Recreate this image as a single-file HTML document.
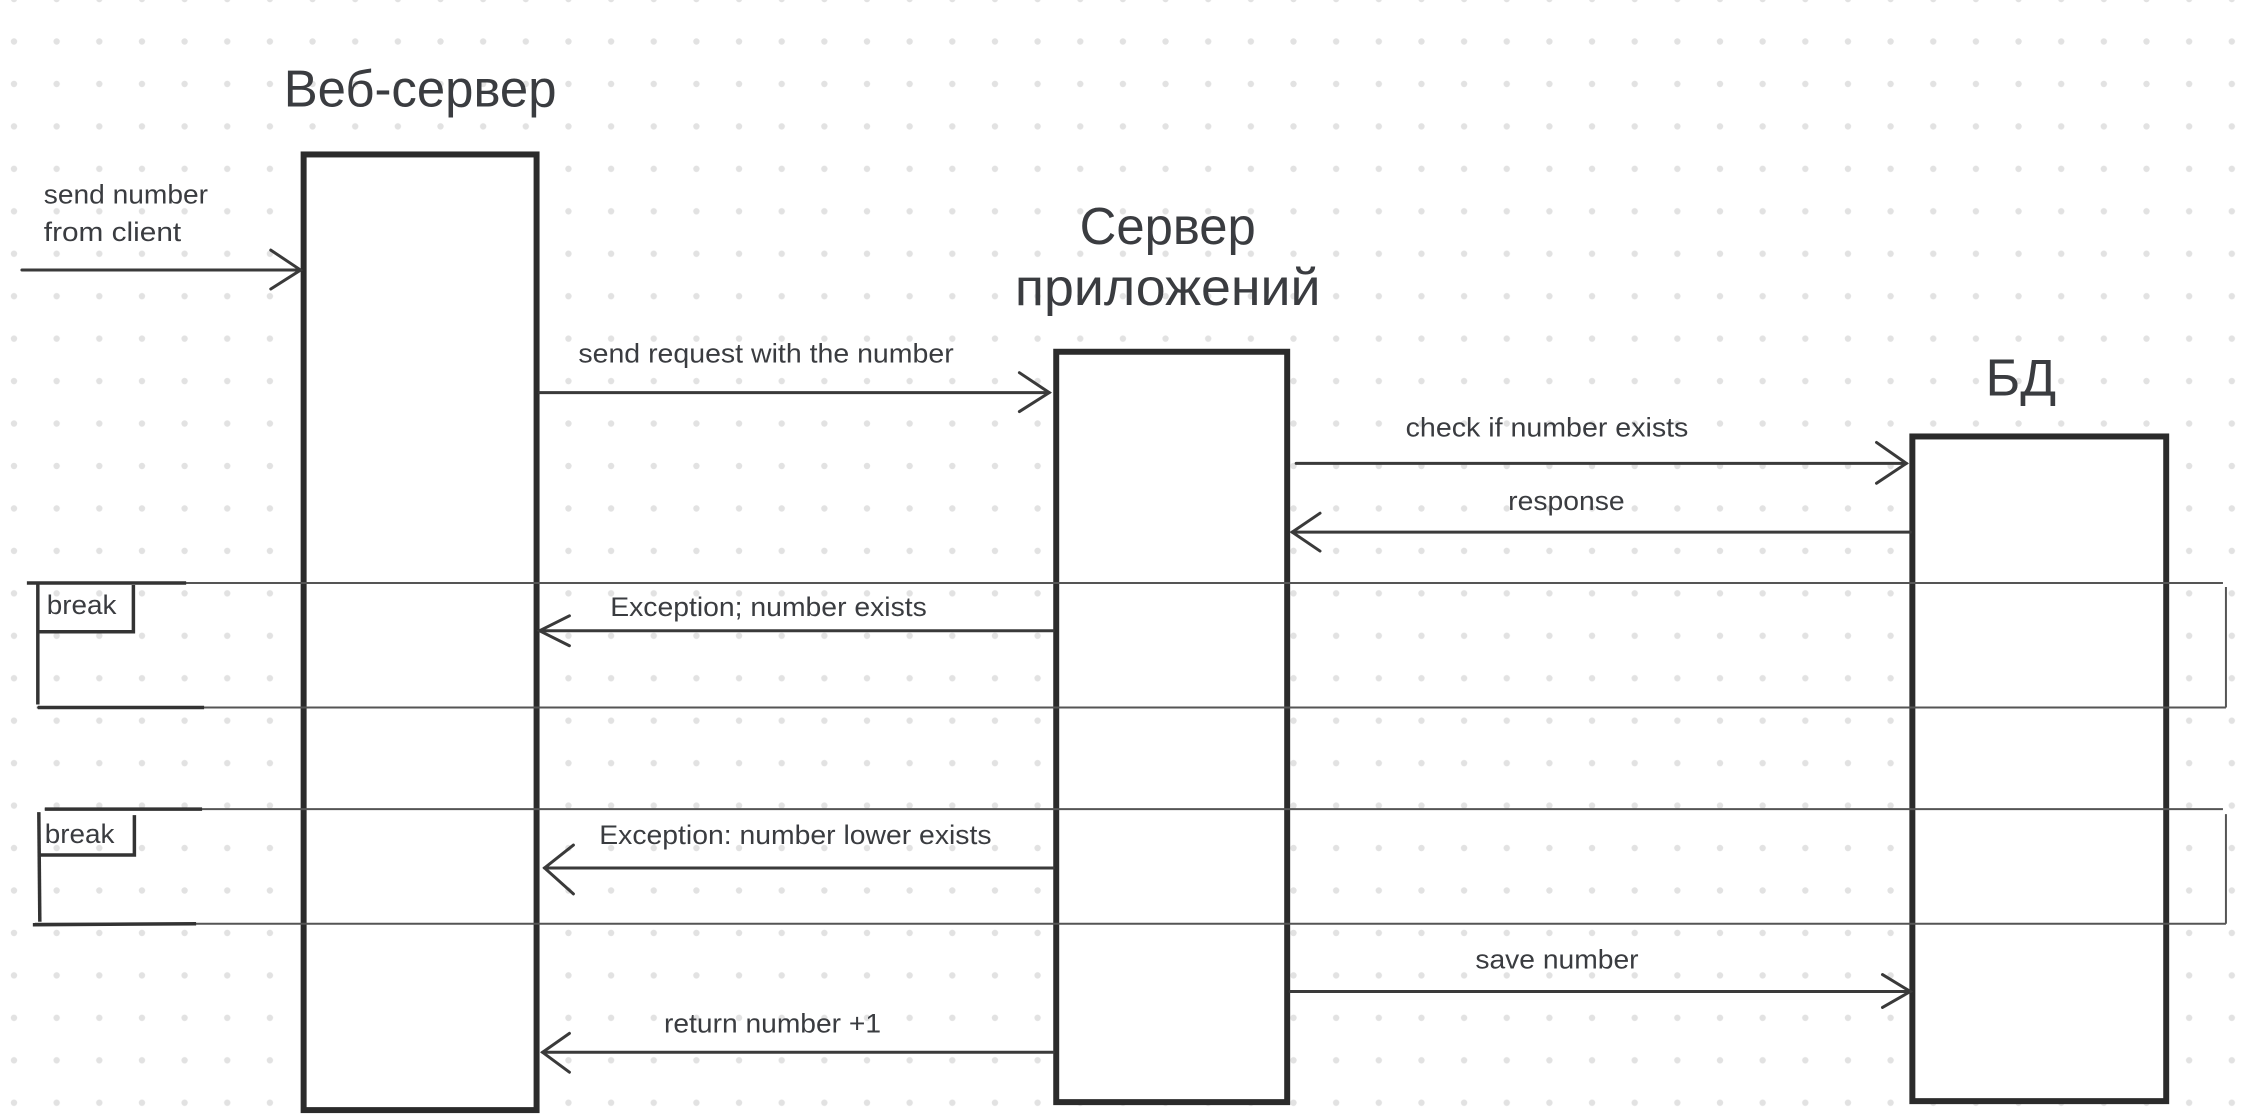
<!DOCTYPE html>
<html><head><meta charset="utf-8"><style>
html,body{margin:0;padding:0;background:#fff;}
svg{display:block;}
text{font-family:"Liberation Sans","DejaVu Sans",sans-serif;fill:#3a3c40;}
</style></head><body>
<svg width="2262" height="1120" viewBox="0 0 2262 1120" xmlns="http://www.w3.org/2000/svg">
<defs>
<pattern id="dots" x="14" y="41.5" width="42.65" height="42.45" patternUnits="userSpaceOnUse">
<circle cx="0" cy="0" r="3.2" fill="#e2e2e2"/>
<circle cx="42.65" cy="0" r="3.2" fill="#e2e2e2"/>
<circle cx="0" cy="42.45" r="3.2" fill="#e2e2e2"/>
<circle cx="42.65" cy="42.45" r="3.2" fill="#e2e2e2"/>
</pattern>
</defs>
<rect width="2262" height="1120" fill="url(#dots)"/>
<g transform="scale(0.9955 0.9965)">
<!-- lifeline boxes -->
<rect x="305" y="155" width="234" height="959" fill="#fff" stroke="#2b2b2b" stroke-width="6"/>
<rect x="1061" y="353" width="232" height="753" fill="#fff" stroke="#2b2b2b" stroke-width="6"/>
<rect x="1921" y="438" width="255" height="667" fill="#fff" stroke="#2b2b2b" stroke-width="6"/>

<!-- titles -->
<text x="422" y="107" font-size="52" text-anchor="middle" textLength="274" lengthAdjust="spacingAndGlyphs">Веб-сервер</text>
<text x="1173" y="245" font-size="52" text-anchor="middle" textLength="177" lengthAdjust="spacingAndGlyphs">Сервер</text>
<text x="1173" y="306" font-size="52" text-anchor="middle" textLength="307" lengthAdjust="spacingAndGlyphs">приложений</text>
<text x="2030" y="397" font-size="52" text-anchor="middle" textLength="71" lengthAdjust="spacingAndGlyphs">БД</text>

<!-- break frames -->
<g stroke="#555" stroke-width="2" fill="none">
<line x1="37" y1="585" x2="2233" y2="585"/>
<line x1="37" y1="710" x2="2236" y2="710"/>
<line x1="2236" y1="589" x2="2236" y2="710"/>
<line x1="45" y1="812" x2="2233" y2="812"/>
<line x1="35" y1="927" x2="2236" y2="927"/>
<line x1="2236" y1="817" x2="2236" y2="927"/>
</g>
<g stroke="#333" stroke-width="3.5" fill="none">
<line x1="27" y1="585" x2="187" y2="585"/>
<line x1="38" y1="585" x2="38" y2="707"/>
<line x1="38" y1="710" x2="205" y2="710"/>
<polyline points="38,634 134,634 134,587"/>
<line x1="45" y1="812" x2="203" y2="812"/>
<line x1="39" y1="815" x2="40" y2="925"/>
<line x1="33" y1="928" x2="197" y2="927"/>
<polyline points="39,858 135,858 135,818"/>
</g>
<text x="47" y="616" font-size="27" textLength="70" lengthAdjust="spacingAndGlyphs">break</text>
<text x="45" y="846" font-size="27" textLength="70" lengthAdjust="spacingAndGlyphs">break</text>

<!-- arrows -->
<g stroke="#3a3a3a" stroke-width="3" fill="none" stroke-linecap="round">
<line x1="22" y1="271" x2="302" y2="271"/><polyline points="272,251 302,271 272,290"/>
<line x1="542" y1="394" x2="1054" y2="394"/><polyline points="1024,374 1054,394 1024,413"/>
<line x1="1302" y1="465" x2="1915" y2="465"/><polyline points="1885,444 1915,465 1885,485"/>
<line x1="1919" y1="534" x2="1298" y2="534"/><polyline points="1326,515 1298,534 1326,553"/>
<line x1="1058" y1="633" x2="542" y2="633"/><polyline points="572,618 542,633 572,648"/>
<line x1="1058" y1="871" x2="547" y2="871"/><polyline points="576,848 547,871 576,897"/>
<line x1="1296" y1="995" x2="1919" y2="995"/><polyline points="1891,978 1919,995 1891,1011"/>
<line x1="1058" y1="1056" x2="545" y2="1056"/><polyline points="572,1037 545,1056 572,1076"/>
</g>

<!-- labels -->
<g font-size="27">
<text x="44" y="204" textLength="165" lengthAdjust="spacingAndGlyphs">send number</text>
<text x="44" y="242" textLength="138" lengthAdjust="spacingAndGlyphs">from client</text>
<text x="581" y="364" textLength="377" lengthAdjust="spacingAndGlyphs">send request with the number</text>
<text x="1412" y="438" textLength="284" lengthAdjust="spacingAndGlyphs">check if number exists</text>
<text x="1515" y="512" textLength="117" lengthAdjust="spacingAndGlyphs">response</text>
<text x="613" y="618" textLength="318" lengthAdjust="spacingAndGlyphs">Exception; number exists</text>
<text x="602" y="847" textLength="394" lengthAdjust="spacingAndGlyphs">Exception: number lower exists</text>
<text x="1482" y="972" textLength="164" lengthAdjust="spacingAndGlyphs">save number</text>
<text x="667" y="1036" textLength="218" lengthAdjust="spacingAndGlyphs">return number +1</text>
</g>
</g>
</svg>
</body></html>
